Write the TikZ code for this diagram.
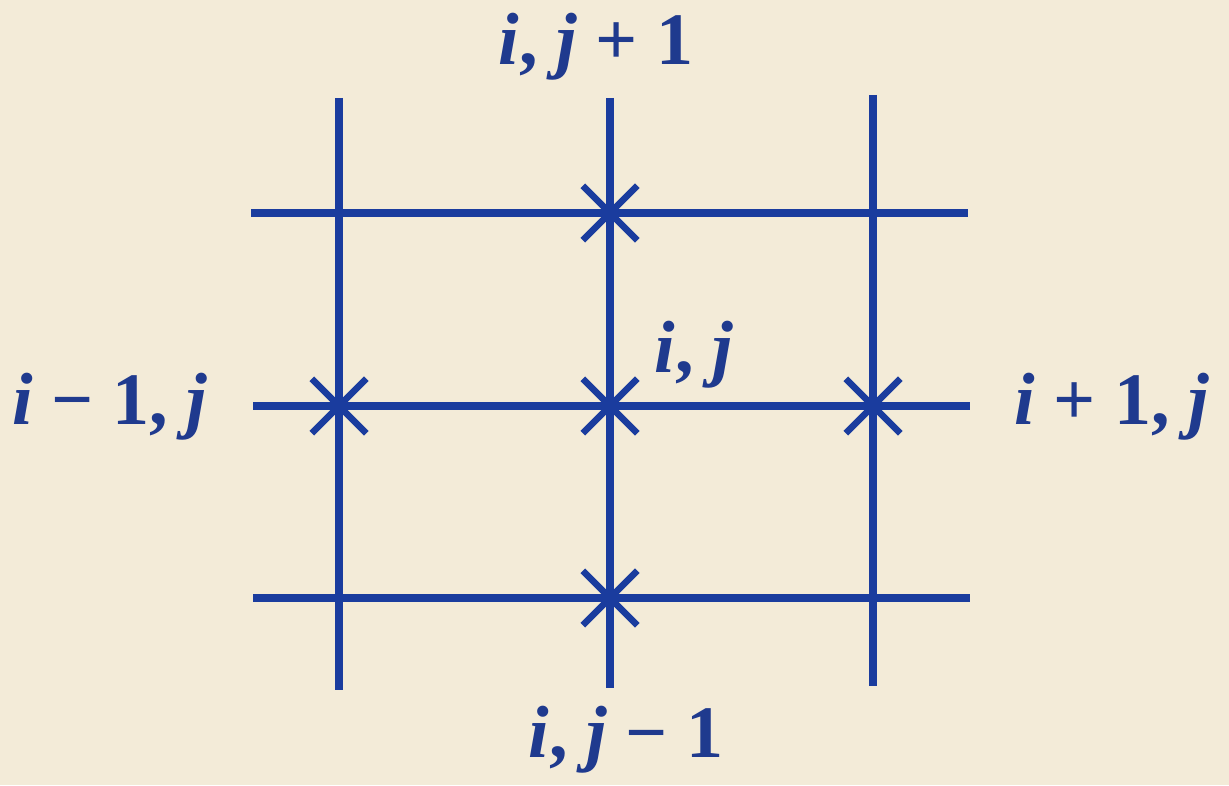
\documentclass[tikz,border=0pt]{standalone}
\usepackage{fontspec}
\setmainfont{Liberation Serif}
\usetikzlibrary{shapes.misc}
\definecolor{paper}{HTML}{F3EBD8}
\definecolor{ink}{HTML}{1A3C9E}
\definecolor{txt}{HTML}{1F3A8E}
\newcommand\vi{{\itshape i}}
\newcommand\vj{{\itshape j\/}}
\tikzset{
  gridline/.style={draw=ink, line width=7.5pt},
  mark cross/.style={cross out, draw=ink, line width=6.5pt, minimum size=48pt, inner sep=0pt},
  lab/.style={text=txt, anchor=base, inner sep=0pt, font=\fontsize{74}{86}\selectfont\bfseries}
}
\begin{document}
\begin{tikzpicture}[x=1pt,y=1pt]
\fill[paper] (0,0) rectangle (1229,785);
\useasboundingbox (0,0) rectangle (1229,785);
% line end points
\coordinate (v1t) at (339,687); \coordinate (v1b) at (339,95);
\coordinate (v2t) at (610,687); \coordinate (v2b) at (610,97);
\coordinate (v3t) at (873,690); \coordinate (v3b) at (873,99);
\coordinate (h1l) at (251,572); \coordinate (h1r) at (968,572);
\coordinate (h2l) at (253,379); \coordinate (h2r) at (970,379);
\coordinate (h3l) at (253,187); \coordinate (h3r) at (970,187);
\draw[gridline] (v1t) -- (v1b);
\draw[gridline] (v2t) -- (v2b);
\draw[gridline] (v3t) -- (v3b);
\draw[gridline] (h1l) -- (h1r);
\draw[gridline] (h2l) -- (h2r);
\draw[gridline] (h3l) -- (h3r);
% crosses
\node[mark cross] (top) at (610,572) {};
\node[mark cross] (left) at (339,379) {};
\node[mark cross] (mid) at (610,379) {};
\node[mark cross] (right) at (873,379) {};
\node[mark cross] (bot) at (610,187) {};
% labels
\node[lab] (ltop) at (596,720) {\vi, \vj\ + 1};
\node[lab] (lleft) at (110,360) {\vi\ − 1, \vj};
\node[lab] (lright) at (1112,360) {\vi\ + 1, \vj};
\node[lab] (lbot) at (626,28) {\vi, \vj\ − 1};
\node[lab] (lmid) at (694,412) {\vi, \vj};
\end{tikzpicture}
\end{document}
